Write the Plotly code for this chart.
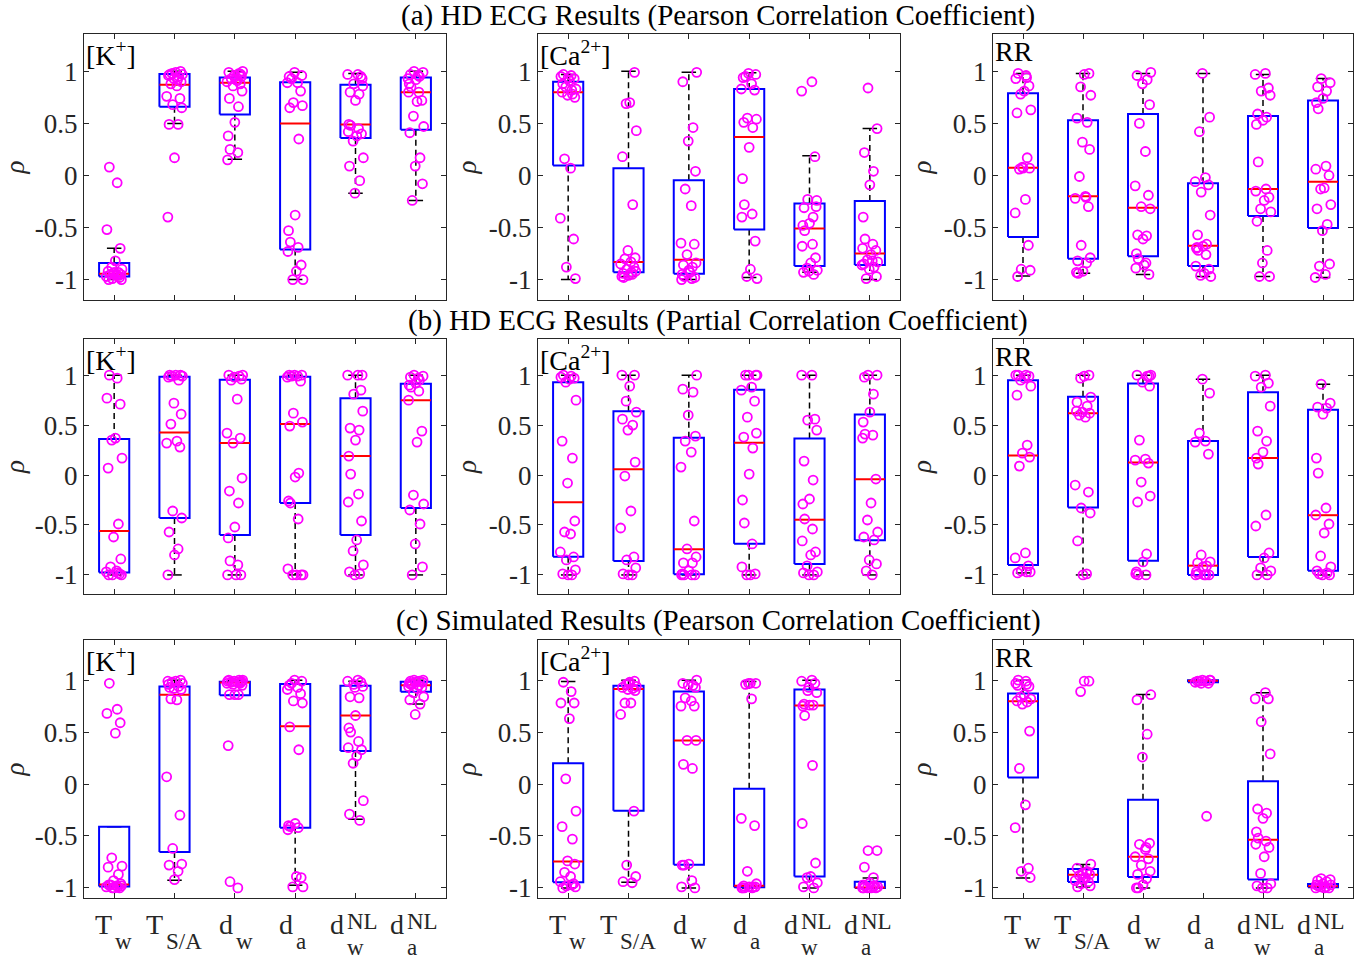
import plotly.graph_objects as go

CAT_MAIN = ["T", "T", "d", "d", "d", "d"]
CAT_SUB = ["w", "S/A", "w", "a", "w", "a"]
CAT_SUP = ["", "", "", "", "NL", "NL"]
YTICKS = [-1, -0.5, 0, 0.5, 1]
YTICKTEXT = ["-1", "-0.5", "0", "0.5", "1"]
ROW_TITLES = ["(a) HD ECG Results (Pearson Correlation Coefficient)",
              "(b) HD ECG Results (Partial Correlation Coefficient)",
              "(c) Simulated Results (Pearson Correlation Coefficient)"]
PANEL_LABELS = ["[K<sup>+</sup>]", "[Ca<sup>2+</sup>]", "RR"]

# box stats per category: [q1, median, q3, lower whisker, upper whisker]
A_K_BOX = [[-0.97, -0.945, -0.84, -1.0, -0.70], [0.66, 0.87, 0.975, 0.50, 1.0],
           [0.585, 0.89, 0.94, 0.155, 1.0], [-0.71, 0.50, 0.895, -1.0, 0.99],
           [0.36, 0.49, 0.87, -0.17, 0.98], [0.44, 0.80, 0.94, -0.24, 1.0]]
A_K_PTS = [[0.08, -0.07, -0.52, -0.70, -0.82, -0.88, -0.90, -0.92, -0.93, -0.94, -0.95, -0.95, -0.96, -0.97, -0.98, -0.99, -1.0, -1.0, -0.96, -0.93],
           [1.0, 0.99, 0.98, 0.97, 0.96, 0.95, 0.93, 0.9, 0.88, 0.86, 0.76, 0.74, 0.68, 0.65, 0.49, 0.49, 0.17, -0.40, 0.97, 0.92],
           [1.0, 0.99, 0.98, 0.96, 0.95, 0.93, 0.91, 0.90, 0.88, 0.86, 0.81, 0.74, 0.66, 0.51, 0.38, 0.25, 0.22, 0.15, 0.97, 0.92],
           [0.99, 0.96, 0.93, 0.89, 0.89, 0.81, 0.70, 0.67, 0.65, 0.35, -0.38, -0.53, -0.64, -0.69, -0.73, -0.86, -0.92, -1.0, -1.0, 0.95],
           [0.97, 0.97, 0.95, 0.88, 0.86, 0.80, 0.78, 0.72, 0.49, 0.48, 0.45, 0.42, 0.40, 0.38, 0.33, 0.17, 0.09, -0.05, -0.17, 0.93],
           [1.0, 0.99, 0.97, 0.95, 0.92, 0.88, 0.85, 0.80, 0.80, 0.72, 0.71, 0.57, 0.47, 0.41, 0.17, 0.09, -0.08, -0.24, 0.96, 0.93]]

A_CA_BOX = [[0.096, 0.80, 0.90, -1.0, 0.97], [-0.93, -0.83, 0.07, -0.97, 1.0],
            [-0.945, -0.81, -0.045, -1.0, 0.99], [-0.52, 0.37, 0.83, -0.98, 0.985],
            [-0.87, -0.51, -0.27, -0.93, 0.19], [-0.86, -0.75, -0.245, -1.0, 0.45]]
A_CA_PTS = [[0.97, 0.96, 0.95, 0.93, 0.91, 0.85, 0.83, 0.80, 0.78, 0.77, 0.75, 0.16, 0.07, -0.41, -0.61, -0.88, -0.99, 0.88, 0.82, 0.94],
            [0.99, 0.70, 0.69, 0.43, 0.18, -0.28, -0.72, -0.79, -0.80, -0.83, -0.85, -0.88, -0.90, -0.92, -0.94, -0.95, -0.96, -0.97, -0.98, -0.93],
            [0.99, 0.90, 0.46, 0.33, 0.04, -0.13, -0.29, -0.65, -0.66, -0.76, -0.84, -0.86, -0.88, -0.91, -0.95, -0.97, -0.99, -1.0, -0.98, -0.93],
            [0.98, 0.97, 0.95, 0.88, 0.83, 0.82, 0.55, 0.54, 0.51, 0.46, 0.27, -0.03, -0.28, -0.37, -0.40, -0.63, -0.90, -0.97, -0.99, 0.94],
            [0.90, 0.81, 0.18, -0.23, -0.24, -0.31, -0.40, -0.46, -0.48, -0.53, -0.66, -0.68, -0.79, -0.84, -0.89, -0.91, -0.93, -0.95, -0.92, -0.30],
            [0.84, 0.45, 0.22, 0.04, -0.09, -0.40, -0.61, -0.66, -0.70, -0.72, -0.76, -0.81, -0.83, -0.85, -0.88, -0.90, -0.97, -0.99, -0.82, -0.86]]

A_RR_BOX = [[-0.59, 0.073, 0.79, -0.965, 0.98], [-0.80, -0.20, 0.53, -0.94, 0.98],
            [-0.775, -0.31, 0.59, -0.95, 0.98], [-0.87, -0.675, -0.076, -0.97, 0.98],
            [-0.39, -0.13, 0.57, -0.97, 0.97], [-0.505, -0.06, 0.72, -0.98, 0.93]]
A_RR_PTS = [[0.98, 0.96, 0.93, 0.86, 0.81, 0.78, 0.63, 0.60, 0.17, 0.08, 0.07, 0.06, -0.23, -0.36, -0.67, -0.90, -0.91, -0.97, 0.94, 0.07],
            [0.98, 0.97, 0.85, 0.77, 0.55, 0.51, 0.32, 0.25, -0.01, -0.20, -0.22, -0.30, -0.67, -0.79, -0.82, -0.84, -0.92, -0.93, -0.94, -0.21],
            [0.99, 0.96, 0.92, 0.88, 0.68, 0.50, 0.23, -0.10, -0.19, -0.30, -0.32, -0.57, -0.58, -0.61, -0.75, -0.80, -0.84, -0.89, -0.95, -0.86],
            [0.98, 0.56, 0.42, -0.02, -0.06, -0.09, -0.16, -0.38, -0.57, -0.66, -0.68, -0.70, -0.72, -0.76, -0.87, -0.90, -0.94, -0.96, -0.97, -0.69],
            [0.98, 0.97, 0.84, 0.81, 0.77, 0.59, 0.56, 0.53, 0.49, 0.13, -0.13, -0.15, -0.21, -0.24, -0.32, -0.35, -0.44, -0.72, -0.84, -0.97, -0.97],
            [0.93, 0.89, 0.85, 0.81, 0.74, 0.70, 0.64, 0.09, 0.06, -0.00, -0.12, -0.13, -0.28, -0.32, -0.47, -0.53, -0.85, -0.87, -0.95, -0.98]]

B_K_BOX = [[-0.975, -0.56, 0.36, -1.0, 1.0], [-0.43, 0.425, 0.985, -1.0, 1.0],
           [-0.60, 0.32, 0.955, -1.0, 1.0], [-0.28, 0.51, 0.985, -1.0, 1.0],
           [-0.60, 0.19, 0.77, -1.0, 1.0], [-0.33, 0.75, 0.915, -1.0, 1.0]]
B_K_PTS = [[1.0, 0.97, 0.77, 0.71, 0.37, 0.35, 0.17, 0.07, -0.49, -0.62, -0.84, -0.92, -0.96, -0.97, -0.99, -1.0, -1.0, -1.0, -0.98],
           [1.0, 1.0, 0.99, 0.99, 0.98, 0.95, 0.72, 0.61, 0.51, 0.34, 0.32, 0.28, -0.36, -0.43, -0.57, -0.74, -0.80, -1.0, 1.0],
           [1.0, 1.0, 0.99, 0.98, 0.96, 0.95, 0.76, 0.42, 0.37, 0.32, -0.03, -0.16, -0.28, -0.52, -0.63, -0.86, -0.90, -1.0, -1.0, -1.0],
           [1.0, 1.0, 0.99, 0.99, 0.98, 0.94, 0.62, 0.53, 0.49, 0.02, -0.02, -0.26, -0.28, -0.44, -0.94, -1.0, -1.0, -1.0, -1.0, 1.0],
           [1.0, 1.0, 0.85, 0.81, 0.64, 0.47, 0.45, 0.35, 0.19, 0.01, -0.19, -0.27, -0.46, -0.65, -0.76, -0.90, -0.97, -0.99, -1.0, 1.0],
           [1.0, 0.99, 0.98, 0.95, 0.92, 0.90, 0.88, 0.84, 0.75, 0.44, 0.33, -0.20, -0.29, -0.35, -0.49, -0.69, -0.92, -1.0, 0.97]]

B_CA_BOX = [[-0.817, -0.273, 0.93, -1.0, 1.0], [-0.86, 0.057, 0.64, -1.0, 1.0],
            [-0.993, -0.743, 0.373, -1.0, 1.0], [-0.687, 0.323, 0.853, -1.0, 1.0],
            [-0.89, -0.447, 0.367, -1.0, 1.0], [-0.653, -0.043, 0.607, -1.0, 1.0]]
B_CA_PTS = [[1.0, 0.99, 0.98, 0.97, 0.96, 0.93, 0.75, 0.34, 0.17, -0.08, -0.46, -0.57, -0.59, -0.77, -0.82, -0.85, -0.95, -0.99, -1.0, -1.0],
            [1.0, 0.89, 0.74, 0.63, 0.56, 0.50, 0.45, 0.13, -0.01, -0.36, -0.53, -0.82, -0.85, -0.93, -0.99, -1.0, -1.0, 1.0],
            [1.0, 0.86, 0.83, 0.60, 0.39, 0.34, 0.23, 0.08, -0.46, -0.74, -0.82, -0.88, -0.88, -0.96, -0.99, -1.0, -1.0, -1.0, -1.0],
            [1.0, 1.0, 1.0, 0.88, 0.85, 0.74, 0.58, 0.42, 0.38, 0.27, 0.01, -0.25, -0.48, -0.69, -0.92, -0.99, -1.0, -1.0, 1.0],
            [1.0, 1.0, 0.56, 0.55, 0.45, 0.14, -0.05, -0.24, -0.29, -0.44, -0.54, -0.66, -0.77, -0.80, -0.91, -0.97, -0.98, -1.0, -1.0],
            [1.0, 1.0, 0.98, 0.81, 0.63, 0.53, 0.41, 0.40, 0.37, -0.04, -0.28, -0.45, -0.57, -0.62, -0.65, -0.85, -0.89, -0.96, -1.0]]

B_RR_BOX = [[-0.90, 0.196, 0.95, -0.98, 1.0], [-0.326, 0.62, 0.784, -1.0, 1.0],
            [-0.857, 0.126, 0.917, -1.0, 1.0], [-1.0, -0.907, 0.342, -1.0, 0.96],
            [-0.82, 0.17, 0.83, -1.0, 1.0], [-0.957, -0.402, 0.654, -1.0, 0.91]]
B_RR_PTS = [[1.0, 1.0, 1.0, 0.99, 0.97, 0.95, 0.89, 0.80, 0.30, 0.22, 0.18, 0.09, -0.78, -0.83, -0.91, -0.96, -0.97, -0.98, -0.97],
            [1.0, 0.99, 0.97, 0.78, 0.73, 0.69, 0.63, 0.62, 0.60, 0.58, -0.10, -0.17, -0.33, -0.38, -0.66, -0.99, -1.0, 0.64],
            [1.0, 1.0, 0.99, 0.93, 0.89, 0.35, 0.16, 0.15, 0.12, -0.07, -0.21, -0.27, -0.79, -0.87, -0.97, -1.0, -1.0, -0.99, 0.99],
            [0.96, 0.82, 0.42, 0.34, 0.33, 0.21, -0.80, -0.87, -0.88, -0.91, -0.92, -0.97, -0.99, -1.0, -1.0, -1.0, -1.0],
            [1.0, 0.99, 0.92, 0.88, 0.69, 0.44, 0.34, 0.23, 0.17, 0.11, -0.40, -0.51, -0.78, -0.83, -0.93, -0.96, -1.0, -1.0],
            [0.91, 0.72, 0.68, 0.67, 0.61, 0.17, 0.02, -0.33, -0.40, -0.49, -0.58, -0.81, -0.92, -0.96, -0.98, -1.0, -1.0, -0.99]]

C_K_BOX = [[-0.987, -0.968, -0.41, -0.987, -0.41], [-0.655, 0.86, 0.94, -0.925, 1.0],
           [0.856, 0.978, 0.984, 0.856, 1.0], [-0.42, 0.556, 0.962, -0.975, 1.0],
           [0.317, 0.66, 0.946, -0.34, 0.99], [0.888, 0.952, 0.984, 0.77, 1.0]]
C_K_PTS = [[0.97, 0.72, 0.68, 0.59, 0.49, -0.71, -0.79, -0.80, -0.87, -0.93, -0.96, -0.97, -0.98, -0.99, -1.0, -1.0, -0.98, -0.97, -0.99, -1.0],
           [1.0, 0.99, 0.98, 0.97, 0.96, 0.94, 0.92, 0.91, 0.82, 0.81, 0.07, -0.30, -0.62, -0.77, -0.78, -0.84, -0.92, 0.99, 0.93],
           [1.0, 1.0, 1.0, 0.99, 0.99, 0.98, 0.98, 0.97, 0.97, 0.96, 0.95, 0.86, 0.86, 0.86, 0.37, -0.94, -1.0, 0.99, 0.98],
           [1.0, 0.99, 0.97, 0.93, 0.91, 0.87, 0.80, 0.78, 0.55, 0.33, -0.38, -0.40, -0.41, -0.42, -0.44, -0.90, -0.89, -0.99, -0.99, 0.95],
           [1.0, 0.99, 0.98, 0.96, 0.94, 0.84, 0.83, 0.66, 0.54, 0.50, 0.41, 0.35, 0.33, 0.27, 0.20, -0.16, -0.29, -0.35, 0.93],
           [1.0, 1.0, 0.99, 0.99, 0.98, 0.97, 0.96, 0.95, 0.94, 0.93, 0.92, 0.88, 0.84, 0.81, 0.77, 0.67, 0.98, 0.97]]

C_CA_BOX = [[-0.946, -0.745, 0.20, -1.0, 0.987], [-0.257, 0.914, 0.946, -0.946, 1.0],
            [-0.777, 0.42, 0.89, -1.0, 1.0], [-0.994, -0.98, -0.046, -1.0, 0.987],
            [-0.89, 0.757, 0.91, -1.0, 1.0], [-1.0, -0.995, -0.94, -1.0, -0.905]]
C_CA_PTS = [[0.98, 0.89, 0.78, 0.78, 0.63, 0.05, -0.26, -0.41, -0.53, -0.74, -0.77, -0.85, -0.89, -0.94, -0.96, -0.98, -0.99, -1.0, -0.97],
            [0.99, 0.98, 0.96, 0.94, 0.93, 0.92, 0.91, 0.90, 0.78, 0.78, 0.67, -0.26, -0.78, -0.89, -0.94, -0.95, 0.97],
            [1.0, 0.97, 0.95, 0.95, 0.93, 0.83, 0.80, 0.75, 0.75, 0.42, 0.42, 0.19, 0.15, -0.77, -0.78, -0.78, -0.93, -0.99, -1.0],
            [0.97, 0.97, 0.96, 0.82, -0.33, -0.40, -0.84, -0.96, -0.98, -0.99, -0.99, -1.0, -1.0, -1.0, -1.0, -0.99, 0.97],
            [1.0, 0.99, 0.97, 0.90, 0.88, 0.77, 0.76, 0.76, 0.75, 0.66, 0.18, -0.38, -0.76, -0.89, -0.90, -0.95, -0.99, -1.0, 0.93],
            [-0.64, -0.64, -0.80, -0.90, -0.95, -0.97, -0.98, -0.99, -1.0, -1.0, -1.0, -1.0, -0.99, -1.0, -0.98]]

C_RR_BOX = [[0.062, 0.796, 0.872, -0.904, 1.0], [-0.943, -0.872, -0.818, -0.99, -0.774],
            [-0.895, -0.70, -0.152, -1.0, 0.863], [0.98, 0.995, 1.0, 0.98, 1.0],
            [-0.92, -0.537, 0.027, -1.0, 0.88], [-0.994, -0.984, -0.962, -0.994, -0.962]]
C_RR_PTS = [[1.0, 0.99, 0.97, 0.94, 0.86, 0.84, 0.82, 0.80, 0.79, 0.77, 0.51, 0.15, -0.20, -0.42, -0.81, -0.84, -0.90, 0.95, 0.96],
            [0.99, 0.99, 0.89, -0.77, -0.81, -0.84, -0.86, -0.87, -0.88, -0.90, -0.93, -0.94, -0.96, -0.98, -0.99, -0.85, -0.91],
            [0.86, 0.81, 0.48, 0.26, -0.57, -0.58, -0.63, -0.70, -0.72, -0.78, -0.84, -0.87, -0.91, -0.97, -1.0, -1.0, -0.61],
            [1.0, 1.0, 0.99, 0.99, 0.98, 0.97, 0.97, 1.0, 0.99, -0.31],
            [0.88, 0.82, 0.82, 0.60, 0.29, -0.24, -0.28, -0.33, -0.46, -0.52, -0.55, -0.58, -0.61, -0.70, -0.86, -0.96, -0.98, -1.0, -1.0],
            [-0.91, -0.92, -0.93, -0.94, -0.96, -0.97, -0.98, -0.99, -1.0, -1.0, -1.0, -0.99, -0.97]]

# fixed horizontal jitter offsets for the scattered points
JITTER = [-0.08, 0.05, -0.12, 0.10, 0.02, -0.04, 0.13, -0.10, 0.07, -0.01,
          0.11, -0.06, 0.04, -0.13, 0.09, -0.03, 0.12, -0.09, 0.06, 0.0, -0.11]

PANELS = [[(A_K_BOX, A_K_PTS), (A_CA_BOX, A_CA_PTS), (A_RR_BOX, A_RR_PTS)],
          [(B_K_BOX, B_K_PTS), (B_CA_BOX, B_CA_PTS), (B_RR_BOX, B_RR_PTS)],
          [(C_K_BOX, C_K_PTS), (C_CA_BOX, C_CA_PTS), (C_RR_BOX, C_RR_PTS)]]

W, H = 1372, 964


def px(v):
    return v / W


def py(v):
    return 1 - v / H


X_DOMAINS = [[px(84), px(446)], [px(538), px(900)], [px(993), px(1353)]]
Y_DOMAINS = [[py(302), py(34)], [py(597), py(341)], [py(903), py(643)]]
Y_RANGES = [[-1.2, 1.36], [-1.19, 1.36], [-1.1, 1.39]]
TITLE_Y = [py(16), py(322), py(624)]

FONT = "Liberation Serif"
AXC = "#262626"
HALF = 0.25
CAP = 0.12

fig = go.Figure()
annotations = []

for r in range(3):
    for c in range(3):
        idx = r * 3 + c + 1
        xa = "x" if idx == 1 else f"x{idx}"
        ya = "y" if idx == 1 else f"y{idx}"
        box, pts = PANELS[r][c]
        bx, by, mx, my, wx, wy, cx, cy = [], [], [], [], [], [], [], []
        for i, (q1, med, q3, wlo, whi) in enumerate(box):
            x = i + 1
            bx += [x - HALF, x + HALF, x + HALF, x - HALF, x - HALF, None]
            by += [q1, q1, q3, q3, q1, None]
            mx += [x - HALF, x + HALF, None]
            my += [med, med, None]
            if whi > q3:
                wx += [x, x, None]
                wy += [q3, whi, None]
            if wlo < q1:
                wx += [x, x, None]
                wy += [q1, wlo, None]
            cx += [x - CAP, x + CAP, None, x - CAP, x + CAP, None]
            cy += [whi, whi, None, wlo, wlo, None]
        fig.add_trace(go.Scatter(x=wx, y=wy, mode="lines", xaxis=xa, yaxis=ya,
                                 line=dict(color="black", width=1.5, dash="6px,4px"),
                                 showlegend=False, hoverinfo="skip"))
        fig.add_trace(go.Scatter(x=cx, y=cy, mode="lines", xaxis=xa, yaxis=ya,
                                 line=dict(color="black", width=1.5),
                                 showlegend=False, hoverinfo="skip"))
        fig.add_trace(go.Scatter(x=bx, y=by, mode="lines", xaxis=xa, yaxis=ya,
                                 line=dict(color="#0000FF", width=2),
                                 showlegend=False, hoverinfo="skip"))
        fig.add_trace(go.Scatter(x=mx, y=my, mode="lines", xaxis=xa, yaxis=ya,
                                 line=dict(color="#FF0000", width=2),
                                 showlegend=False, hoverinfo="skip"))
        ptx, pty = [], []
        for i, vals in enumerate(pts):
            for k, v in enumerate(vals):
                ptx.append(i + 1 + JITTER[(k + 3 * i) % len(JITTER)])
                pty.append(v)
        fig.add_trace(go.Scatter(x=ptx, y=pty, mode="markers", xaxis=xa, yaxis=ya,
                                 marker=dict(symbol="circle-open", size=9, color="#FF00FF",
                                             line=dict(width=1.8, color="#FF00FF")),
                                 showlegend=False))
        xkey = "xaxis" if idx == 1 else f"xaxis{idx}"
        ykey = "yaxis" if idx == 1 else f"yaxis{idx}"
        fig.layout[xkey] = dict(
            domain=X_DOMAINS[c], anchor=ya, range=[0.5, 6.5],
            tickmode="array", tickvals=[1, 2, 3, 4, 5, 6],
            showticklabels=False, ticks="inside", ticklen=5, tickcolor=AXC,
            showline=True, linecolor=AXC, linewidth=1, mirror="ticks",
            showgrid=False, zeroline=False)
        fig.layout[ykey] = dict(
            domain=Y_DOMAINS[r], anchor=xa, range=Y_RANGES[r],
            tickmode="array", tickvals=YTICKS, ticktext=YTICKTEXT,
            ticks="inside", ticklen=5, tickcolor=AXC,
            showline=True, linecolor=AXC, linewidth=1, mirror="ticks",
            showgrid=False, zeroline=False,
            tickfont=dict(family=FONT, size=27, color=AXC),
            title=dict(text="<i>ρ</i>", standoff=4, font=dict(family=FONT, size=27, color=AXC)))
        annotations.append(dict(text=PANEL_LABELS[c], xref=f"{xa} domain", yref=f"{ya} domain",
                                x=0.0, y=1.0, xanchor="left", yanchor="top", showarrow=False,
                                font=dict(family=FONT, size=28, color="black")))
        if r == 2:
            # category labels with stacked sub/superscripts (MATLAB tex style)
            for i in range(6):
                wide = CAT_SUP[i] != "" or len(CAT_SUB[i]) > 1
                x0 = i + 1 - (0.16 if wide else 0.0)
                annotations.append(dict(text=CAT_MAIN[i], xref=xa, yref="paper",
                                        x=x0, y=py(929), xanchor="right", yanchor="middle",
                                        showarrow=False,
                                        font=dict(family=FONT, size=28, color=AXC)))
                annotations.append(dict(text=CAT_SUB[i], xref=xa, yref="paper",
                                        x=x0 - 0.02, y=py(946 if CAT_SUP[i] == "" else 952),
                                        xanchor="left", yanchor="middle", showarrow=False,
                                        font=dict(family=FONT, size=23, color=AXC)))
                if CAT_SUP[i]:
                    annotations.append(dict(text=CAT_SUP[i], xref=xa, yref="paper",
                                            x=x0 - 0.02, y=py(926), xanchor="left",
                                            yanchor="middle", showarrow=False,
                                            font=dict(family=FONT, size=23, color=AXC)))

for r in range(3):
    annotations.append(dict(text=ROW_TITLES[r], xref="paper", yref="paper",
                            x=px(718), y=TITLE_Y[r], xanchor="center", yanchor="middle",
                            showarrow=False, font=dict(family=FONT, size=29, color="black")))

fig.update_layout(width=W, height=H, margin=dict(l=0, r=0, t=0, b=0),
                  paper_bgcolor="white", plot_bgcolor="white",
                  annotations=annotations, showlegend=False)

fig.write_html("out.html", config={"displayModeBar": False},
               post_script="document.body.style.margin='0px';document.body.style.overflow='hidden';")
